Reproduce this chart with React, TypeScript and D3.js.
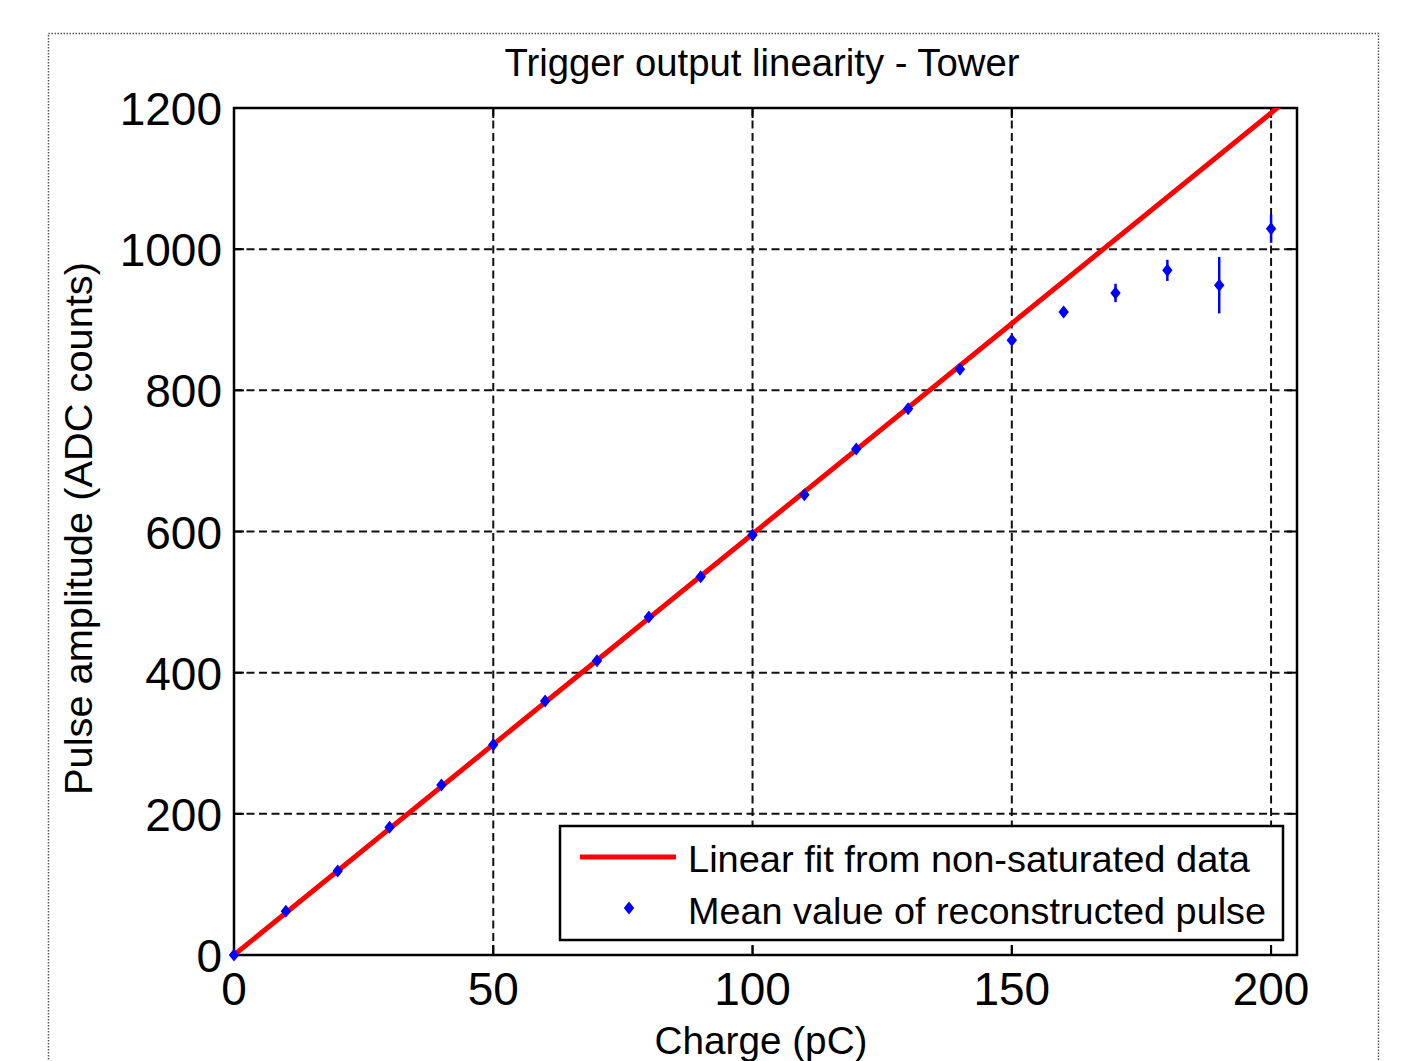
import React from 'react'
import * as d3 from 'd3'

// charge steps (pC) and mean reconstructed amplitude (ADC counts)
const charge = [0, 10, 20, 30, 40, 50, 60, 70, 80, 90, 100, 110, 120, 130, 140, 150, 160, 170, 180, 190, 200]
const amplitude = [0, 62, 119, 181, 241, 298, 360, 417, 479, 536, 595, 652, 717, 774, 830, 871, 911, 938, 970, 949, 1029]
const errors = [0, 2, 2, 2, 2, 2, 2, 2, 2, 2, 2, 3, 3, 3, 3, 5, 5, 13, 15, 40, 20]
const fitSlope = 5.965
const fitOffset = 0
const xTicks = [0, 50, 100, 150, 200]
const yTicks = [0, 200, 400, 600, 800, 1000, 1200]
const legendLabels = ['Linear fit from non-saturated data', 'Mean value of reconstructed pulse']

const W = 1412
const H = 1061
const m = { left: 234, right: 1297, top: 108, bottom: 955 }
const font = '"Liberation Sans", Arial, sans-serif'

export default function App() {
  const x = d3.scaleLinear().domain([0, 205]).range([m.left, m.right])
  const y = d3.scaleLinear().domain([0, 1200]).range([m.bottom, m.top])

  const fitLine = d3.line<number>()
    .x(d => x(d))
    .y(d => y(fitSlope * d + fitOffset))
  const fitXs = [0, 205]

  const diamond = (cx: number, cy: number, r: number) =>
    `M${cx},${cy - r}L${cx + r * 0.8},${cy}L${cx},${cy + r}L${cx - r * 0.8},${cy}Z`

  const tick = 10
  return (
    <svg width={W} height={H} style={{ position: 'absolute', left: 0, top: 0, background: '#fff' }}>
      <rect x={48.5} y={33.5} width={1330} height={1100} fill="none" stroke="#555" strokeWidth={1.5} strokeDasharray="1.5,1.5" />
      <defs>
        <clipPath id="plot">
          <rect x={m.left} y={m.top} width={m.right - m.left} height={m.bottom - m.top} />
        </clipPath>
      </defs>

      {/* grid */}
      <g stroke="#111" strokeWidth={2} strokeDasharray="8,4.5">
        {xTicks.map(t => (
          <line key={'gx' + t} x1={x(t)} x2={x(t)} y1={m.top} y2={m.bottom} />
        ))}
        {yTicks.map(t => (
          <line key={'gy' + t} x1={m.left} x2={m.right} y1={y(t)} y2={y(t)} />
        ))}
      </g>

      {/* box + ticks */}
      <rect x={m.left} y={m.top} width={m.right - m.left} height={m.bottom - m.top} fill="none" stroke="#000" strokeWidth={2.5} />
      <g stroke="#000" strokeWidth={2}>
        {xTicks.map(t => (
          <g key={'tx' + t}>
            <line x1={x(t)} x2={x(t)} y1={m.bottom} y2={m.bottom - tick} />
            <line x1={x(t)} x2={x(t)} y1={m.top} y2={m.top + tick} />
          </g>
        ))}
        {yTicks.map(t => (
          <g key={'ty' + t}>
            <line x1={m.left} x2={m.left + tick} y1={y(t)} y2={y(t)} />
            <line x1={m.right} x2={m.right - tick} y1={y(t)} y2={y(t)} />
          </g>
        ))}
      </g>

      {/* tick labels */}
      <g fontFamily={font} fontSize={46} fill="#000">
        {xTicks.map(t => (
          <text key={'lx' + t} x={x(t)} y={1005} textAnchor="middle">{t}</text>
        ))}
        {yTicks.map(t => (
          <text key={'ly' + t} x={222} y={y(t) + 17} textAnchor="end">{t}</text>
        ))}
      </g>

      {/* fit line */}
      <g clipPath="url(#plot)">
        <path d={fitLine(fitXs) || ''} fill="none" stroke="#ff0000" strokeWidth={5} />
      </g>

      {/* data points with error bars */}
      <g fill="#0000ff" stroke="#0000ff">
        {charge.map((c, i) => (
          <g key={'p' + c}>
            {errors[i] > 3 && (
              <line x1={x(c)} x2={x(c)} y1={y(amplitude[i] - errors[i])} y2={y(amplitude[i] + errors[i])} strokeWidth={2.5} />
            )}
            <path d={diamond(x(c), y(amplitude[i]), 6.5)} stroke="none" />
          </g>
        ))}
      </g>

      {/* legend */}
      <rect x={560} y={826} width={723} height={114} fill="#fff" stroke="#000" strokeWidth={2.5} />
      <line x1={580} x2={676} y1={857} y2={857} stroke="#ff0000" strokeWidth={5} />
      <path d={diamond(629, 908, 6.5)} fill="#0000ff" />
      <g fontFamily={font} fontSize={37} fill="#000">
        <text x={688} y={872} textLength={562} lengthAdjust="spacingAndGlyphs">{legendLabels[0]}</text>
        <text x={688} y={924} textLength={578} lengthAdjust="spacingAndGlyphs">{legendLabels[1]}</text>
      </g>

      {/* titles */}
      <text x={762} y={76} textAnchor="middle" fontFamily={font} fontSize={38} textLength={515} lengthAdjust="spacingAndGlyphs">
        Trigger output linearity - Tower
      </text>
      <text x={761} y={1054} textAnchor="middle" fontFamily={font} fontSize={38} textLength={213} lengthAdjust="spacingAndGlyphs">
        Charge (pC)
      </text>
      <text transform={`translate(92,${(m.top + m.bottom) / 2 - 3}) rotate(-90)`} textAnchor="middle" fontFamily={font} fontSize={38} textLength={533} lengthAdjust="spacingAndGlyphs">
        Pulse amplitude (ADC counts)
      </text>
    </svg>
  )
}
